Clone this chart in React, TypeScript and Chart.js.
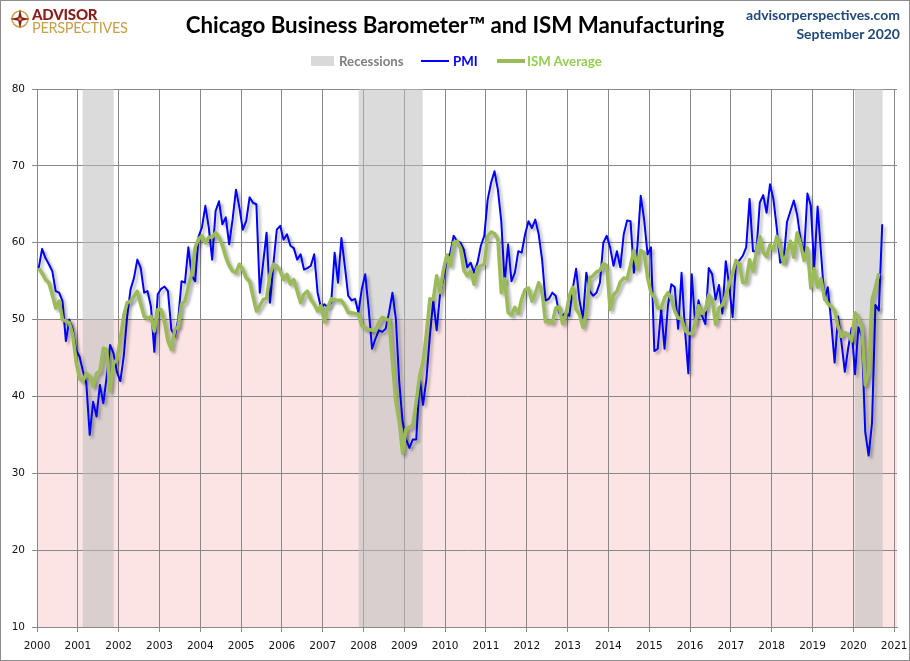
import React, { useEffect, useRef } from "react";
import { Chart, registerables } from "chart.js";

Chart.register(...registerables);

// ---------------- data ----------------
const startYear = 2000; // first value = January 2000, one value per month
const pmiValues = [
  56.7, 59.2, 58.0, 57.2, 56.3, 53.7, 53.5, 52.4, 47.2, 50.0, 48.7, 46.0, // 2000
  45.2, 43.3, 41.7, 35.0, 39.3, 37.4, 41.5, 39.1, 42.6, 46.7, 45.6, 43.2, // 2001
  42.0, 45.2, 50.4, 53.9, 55.4, 57.8, 56.7, 53.5, 53.7, 51.7, 45.8, 53.3, // 2002
  54.0, 54.3, 53.7, 48.7, 47.8, 50.0, 55.0, 54.8, 59.4, 55.7, 55.0, 60.8, // 2003
  62.0, 64.8, 62.0, 57.8, 64.1, 65.4, 62.4, 63.3, 59.8, 63.0, 66.9, 64.6, // 2004
  61.7, 62.8, 65.9, 65.2, 65.0, 53.5, 57.4, 61.3, 52.2, 57.2, 61.7, 62.2, // 2005
  60.4, 61.1, 59.6, 59.3, 57.8, 58.5, 56.5, 56.7, 57.0, 58.5, 53.5, 51.5, // 2006
  52.0, 51.6, 52.2, 58.7, 54.8, 60.6, 57.0, 53.1, 52.5, 52.7, 50.9, 54.0, // 2007
  55.9, 51.5, 46.2, 47.5, 48.6, 48.4, 48.8, 50.9, 53.5, 50.1, 41.9, 36.7, // 2008
  34.4, 33.3, 34.4, 34.4, 42.3, 38.9, 42.3, 47.9, 52.5, 48.6, 53.3, 55.3, // 2009
  57.8, 58.7, 60.9, 60.2, 60.0, 59.1, 56.8, 57.4, 56.1, 57.4, 59.6, 60.9, // 2010
  65.6, 67.8, 69.3, 66.9, 62.8, 54.8, 59.8, 55.0, 56.1, 58.9, 58.7, 61.1, // 2011
  62.8, 61.9, 63.0, 61.1, 57.8, 52.5, 52.7, 53.5, 53.1, 50.9, 50.5, 50.9, // 2012
  50.5, 54.0, 56.6, 52.5, 50.1, 56.1, 53.7, 53.1, 53.5, 54.8, 60.0, 60.9, // 2013
  59.4, 57.0, 58.9, 56.8, 61.1, 62.9, 62.8, 56.1, 59.4, 66.1, 63.0, 58.5, // 2014
  59.4, 45.9, 46.2, 51.4, 46.2, 51.8, 54.6, 54.2, 48.8, 56.1, 48.7, 43.0, // 2015
  55.9, 49.4, 52.5, 50.5, 49.4, 56.7, 55.9, 52.6, 54.5, 50.8, 57.6, 54.5, // 2016
  50.3, 57.4, 57.7, 58.3, 59.4, 65.7, 58.9, 58.9, 65.2, 66.2, 63.9, 67.6, // 2017
  65.7, 61.9, 57.4, 57.6, 62.7, 64.1, 65.5, 63.6, 60.4, 58.4, 66.4, 64.8, // 2018
  56.7, 64.7, 58.7, 52.6, 54.2, 49.7, 44.4, 50.4, 47.1, 43.2, 46.3, 48.9, // 2019
  42.9, 49.0, 47.8, 35.4, 32.3, 36.6, 51.9, 51.2, 62.4, // 2020
];
const ismValues = [
  56.7, 56.0, 55.2, 54.8, 53.2, 51.5, 52.4, 50.0, 49.8, 49.6, 48.0, 44.5, // 2000
  42.3, 42.0, 43.0, 42.6, 41.3, 43.0, 43.3, 46.3, 46.1, 40.7, 44.3, 44.8, // 2001
  47.5, 50.5, 52.2, 52.4, 53.0, 53.7, 52.0, 50.4, 50.2, 50.4, 48.5, 51.3, // 2002
  51.3, 49.6, 47.2, 46.1, 48.7, 49.1, 52.0, 52.4, 54.3, 56.0, 59.4, 60.5, // 2003
  60.9, 60.0, 60.7, 60.7, 61.3, 60.7, 59.6, 58.1, 57.0, 56.3, 56.1, 57.2, // 2004
  56.5, 55.4, 55.0, 53.0, 51.1, 51.8, 52.6, 52.8, 55.9, 57.2, 57.0, 56.3, // 2005
  55.2, 55.9, 54.6, 55.2, 53.7, 52.2, 53.3, 53.7, 52.6, 52.0, 51.1, 51.8, // 2006
  49.7, 51.6, 52.7, 52.6, 52.5, 52.5, 51.8, 50.9, 50.9, 50.8, 50.7, 49.2, // 2007
  48.9, 48.7, 48.6, 48.6, 49.7, 50.3, 50.1, 49.9, 44.5, 39.3, 36.7, 32.6, // 2008
  35.8, 36.0, 36.3, 39.3, 42.7, 44.5, 48.2, 52.7, 52.6, 55.7, 53.5, 56.5, // 2009
  58.4, 57.0, 60.0, 60.2, 59.3, 56.4, 55.7, 56.3, 54.6, 56.8, 57.0, 57.2, // 2010
  60.8, 61.4, 61.2, 60.4, 53.5, 55.3, 50.9, 50.6, 51.6, 50.8, 52.7, 53.9, // 2011
  54.1, 52.4, 53.4, 54.8, 53.5, 49.7, 49.8, 49.6, 51.5, 51.7, 49.5, 50.7, // 2012
  53.1, 54.2, 51.3, 50.7, 49.0, 50.9, 55.4, 55.7, 56.2, 56.4, 57.3, 57.0, // 2013
  51.3, 53.2, 53.7, 54.9, 55.4, 55.3, 57.1, 59.0, 56.6, 59.0, 58.7, 55.5, // 2014
  53.5, 52.9, 51.5, 51.5, 52.8, 53.5, 52.7, 51.1, 50.2, 50.1, 48.6, 48.2, // 2015
  48.2, 49.5, 51.8, 50.8, 51.3, 53.2, 52.6, 49.4, 51.5, 51.9, 53.2, 54.7, // 2016
  56.0, 57.7, 57.2, 54.8, 54.9, 57.8, 56.3, 58.8, 60.8, 58.7, 58.2, 59.7, // 2017
  59.1, 60.8, 59.3, 57.3, 58.7, 60.2, 58.1, 61.3, 59.8, 57.7, 59.3, 54.1, // 2018
  56.6, 54.2, 55.3, 52.8, 52.1, 51.7, 51.2, 49.1, 47.8, 48.3, 48.1, 47.2, // 2019
  50.9, 50.1, 49.1, 41.5, 43.1, 52.6, 54.2, 56.0, // 2020
];
const recessionStarts = [2001.12, 2007.88, 2020.04];
const recessionEnds = [2001.88, 2009.45, 2020.72];
const yearTicks = [
  2000, 2001, 2002, 2003, 2004, 2005, 2006, 2007, 2008, 2009, 2010,
  2011, 2012, 2013, 2014, 2015, 2016, 2017, 2018, 2019, 2020, 2021,
];
const valueTicks = [10, 20, 30, 40, 50, 60, 70, 80];
const contractionLevel = 50;
const xMin = 2000;
const xMax = 2021.07;

// ---------------- styles ----------------
const BLUE = "#0000ff";
const GREEN = "#9bbb59";
const GRID = "#888888";

function toPoints(values: number[]) {
  return values.map((v, i) => ({ x: startYear + (i + 0.5) / 12, y: v }));
}

const zonesPlugin = {
  id: "zones",
  beforeDraw(chart: any) {
    const { ctx, chartArea, scales } = chart;
    const y = scales.y;
    const top = y.getPixelForValue(contractionLevel);
    const bottom = y.getPixelForValue(y.min);
    ctx.save();
    ctx.fillStyle = "#fde4e4";
    ctx.fillRect(chartArea.left, top, chartArea.right - chartArea.left, bottom - top);
    ctx.restore();
  },
  beforeDatasetsDraw(chart: any) {
    const { ctx, chartArea, scales } = chart;
    const x = scales.x;
    ctx.save();
    ctx.fillStyle = "rgba(190,190,190,0.55)";
    recessionStarts.forEach((s, i) => {
      const x1 = x.getPixelForValue(s);
      const x2 = x.getPixelForValue(recessionEnds[i]);
      ctx.fillRect(x1, chartArea.top, x2 - x1, chartArea.bottom - chartArea.top);
    });
    ctx.restore();
  },
  beforeDatasetDraw(chart: any) {
    const ctx = chart.ctx;
    ctx.save();
    ctx.shadowColor = "rgba(0,0,0,0.32)";
    ctx.shadowBlur = 3;
    ctx.shadowOffsetX = 2.5;
    ctx.shadowOffsetY = 2.5;
  },
  afterDatasetDraw(chart: any) {
    chart.ctx.restore();
  },
};

function ChartCanvas() {
  const ref = useRef<HTMLCanvasElement | null>(null);
  useEffect(() => {
    if (!ref.current) return;
    const tickFont = { family: "'DejaVu Sans', sans-serif", size: 10.5 };
    const chart = new Chart(ref.current, {
      type: "line",
      data: {
        datasets: [
          {
            label: "ISM Average",
            data: toPoints(ismValues),
            borderColor: GREEN,
            borderWidth: 3.5,
            pointRadius: 0,
            tension: 0,
            order: 0,
            borderJoinStyle: "round",
          },
          {
            label: "PMI",
            data: toPoints(pmiValues),
            borderColor: BLUE,
            borderWidth: 2,
            pointRadius: 0,
            tension: 0,
            order: 1,
            borderJoinStyle: "round",
          },
        ],
      },
      options: {
        animation: false,
        responsive: false,
        maintainAspectRatio: false,
        parsing: false,
        normalized: true,
        layout: { padding: { top: 89, right: 13, left: 0, bottom: 0 } },
        plugins: {
          legend: { display: false },
          tooltip: { enabled: false },
          title: { display: false },
        },
        scales: {
          x: {
            type: "linear",
            min: xMin,
            max: xMax,
            afterBuildTicks: (scale: any) => {
              scale.ticks = yearTicks.map((v) => ({ value: v }));
            },
            afterFit: (scale: any) => {
              scale.height = 34;
              scale.paddingLeft = 0;
              scale.paddingRight = 0;
            },
            ticks: {
              autoSkip: false,
              maxRotation: 0,
              padding: 8,
              color: "#111",
              font: tickFont,
              callback: (v: any) => String(v),
            },
            grid: { color: GRID, lineWidth: 1, tickLength: 5, drawTicks: true },
            border: { display: true, color: GRID },
          },
          y: {
            type: "linear",
            min: 10,
            max: 80,
            afterBuildTicks: (scale: any) => {
              scale.ticks = valueTicks.map((v) => ({ value: v }));
            },
            afterFit: (scale: any) => {
              scale.width = 37;
              scale.paddingTop = 0;
              scale.paddingBottom = 0;
            },
            ticks: {
              padding: 7,
              color: "#111",
              font: tickFont,
              callback: (v: any) => String(v),
            },
            grid: { color: GRID, lineWidth: 1, tickLength: 5, drawTicks: true },
            border: { display: true, color: GRID },
          },
        },
      } as any,
      plugins: [zonesPlugin],
    });
    return () => chart.destroy();
  }, []);
  return (
    <canvas
      ref={ref}
      width={910}
      height={661}
      style={{ position: "absolute", left: 0, top: 0, width: 910, height: 661 }}
    />
  );
}

const headFont = "Lato, 'Open Sans', sans-serif";

export default function App() {
  return (
    <div
      style={{
        position: "absolute",
        left: 0,
        top: 0,
        width: 910,
        height: 661,
        background: "#fff",
        overflow: "hidden",
        fontFamily: headFont,
      }}
    >
      <ChartCanvas />
      {/* logo */}
      <svg
        width={22}
        height={22}
        viewBox="0 0 22 22"
        style={{ position: "absolute", left: 9, top: 8 }}
      >
        <circle cx={11} cy={11} r={8} fill="none" stroke="#c9a84c" strokeWidth={1.6} />
        <polygon
          points="11,1 12.8,9.2 21,11 12.8,12.8 11,21 9.2,12.8 1,11 9.2,9.2"
          fill="#8b1c1c"
        />
        <circle cx={11} cy={11} r={1.6} fill="#c9a84c" />
      </svg>
      <div
        style={{
          position: "absolute",
          left: 32,
          top: 7,
          fontSize: 15,
          fontWeight: 900,
          color: "#8b1c1c",
          lineHeight: "15px",
          letterSpacing: -0.2,
        }}
      >
        ADVISOR
      </div>
      <div
        style={{
          position: "absolute",
          left: 32,
          top: 20,
          fontSize: 14.5,
          fontWeight: 400,
          color: "#c8a04a",
          lineHeight: "15px",
          letterSpacing: -0.3,
        }}
      >
        PERSPECTIVES
      </div>
      {/* title */}
      <div
        style={{
          position: "absolute",
          left: 0,
          top: 11,
          width: 910,
          textAlign: "center",
          fontSize: 22.3,
          fontWeight: 700,
          color: "#000",
          lineHeight: "28px",
        }}
      >
        Chicago Business Barometer™ and ISM Manufacturing
      </div>
      {/* source */}
      <div
        style={{
          position: "absolute",
          right: 10,
          top: 5,
          textAlign: "right",
          fontSize: 14,
          fontWeight: 700,
          color: "#1f497d",
          lineHeight: "19px",
        }}
      >
        <div>advisorperspectives.com</div>
        <div>September 2020</div>
      </div>
      {/* legend */}
      <div
        style={{
          position: "absolute",
          left: 311,
          top: 56,
          width: 23,
          height: 10,
          background: "#d9d9d9",
        }}
      />
      <div
        style={{
          position: "absolute",
          left: 339,
          top: 52,
          fontSize: 13.3,
          fontWeight: 700,
          color: "#7f7f7f",
          lineHeight: "18px",
        }}
      >
        Recessions
      </div>
      <div
        style={{
          position: "absolute",
          left: 421,
          top: 60,
          width: 28,
          height: 2,
          background: BLUE,
        }}
      />
      <div
        style={{
          position: "absolute",
          left: 453,
          top: 52,
          fontSize: 13.3,
          fontWeight: 700,
          color: BLUE,
          lineHeight: "18px",
        }}
      >
        PMI
      </div>
      <div
        style={{
          position: "absolute",
          left: 497,
          top: 59,
          width: 28,
          height: 4,
          background: GREEN,
        }}
      />
      <div
        style={{
          position: "absolute",
          left: 527,
          top: 52,
          fontSize: 13.3,
          fontWeight: 700,
          color: "#92d050",
          lineHeight: "18px",
        }}
      >
        ISM Average
      </div>
      {/* frame */}
      <div
        style={{
          position: "absolute",
          left: 0,
          top: 0,
          width: 910,
          height: 661,
          boxSizing: "border-box",
          border: "1px solid #8c8c8c",
          pointerEvents: "none",
        }}
      />
    </div>
  );
}
